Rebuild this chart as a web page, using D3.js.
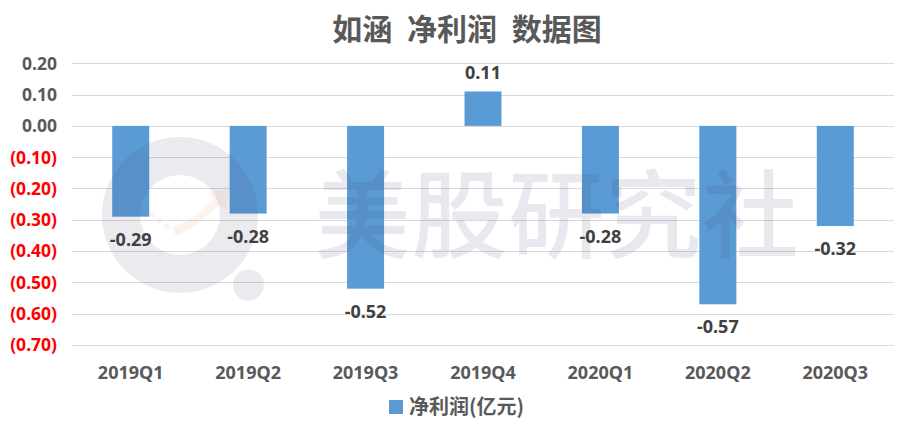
<!DOCTYPE html>
<html><head><meta charset="utf-8">
<script src="https://cdn.jsdelivr.net/npm/d3@7"></script>
<style>
body{margin:0;background:#fff;}
svg{display:block;}
text{font-family:"Noto Sans","Noto Sans CJK SC",sans-serif;}
</style></head>
<body>
<script>
const categories = ["2019Q1","2019Q2","2019Q3","2019Q4","2020Q1","2020Q2","2020Q3"];
const values = [-0.29,-0.28,-0.52,0.11,-0.28,-0.57,-0.32];
const yTicks = [0.2,0.1,0,-0.1,-0.2,-0.3,-0.4,-0.5,-0.6,-0.7];
const seriesName = "净利润(亿元)";
const title = "如涵 净利润 数据图";
const watermark = "美股研究社";

const W = 903, H = 433;
const svg = d3.select("body").append("svg").attr("width", W).attr("height", H);

const x = d3.scaleBand().domain(categories).range([72, 894]).padding(0);
const y = d3.scaleLinear().domain([-0.7, 0.2]).range([345, 63.3]);

// title
svg.append("text").attr("x", 467).attr("y", 40).attr("text-anchor", "middle")
  .attr("font-size", 30).attr("font-weight", 700).attr("fill", "#595959")
  .attr("word-spacing", 8)
  .style("font-family", '"Noto Sans CJK SC",sans-serif').text(title);

// gridlines
svg.append("g").selectAll("line").data(yTicks).join("line")
  .attr("x1", 72).attr("x2", 894)
  .attr("y1", d => Math.round(y(d)) + 0.5).attr("y2", d => Math.round(y(d)) + 0.5)
  .attr("stroke", "#d9d9d9").attr("stroke-width", 1);

// y tick labels
const fmt = d3.format(".2f");
svg.append("g").selectAll("text").data(yTicks).join("text")
  .attr("x", 57).attr("y", d => y(d)).attr("dy", "0.36em").attr("text-anchor", "end")
  .attr("font-size", 17.5).attr("font-weight", 700)
  .attr("fill", d => d < 0 ? "#ff0000" : "#595959")
  .text(d => d < 0 ? "(" + fmt(-d) + ")" : fmt(d));

// bars
const bw = x.bandwidth() * 0.315;
svg.append("g").selectAll("rect").data(values).join("rect")
  .attr("x", (d, i) => x(categories[i]) + x.bandwidth() / 2 - bw / 2)
  .attr("width", bw)
  .attr("y", d => y(Math.max(0, d)))
  .attr("height", d => Math.abs(y(d) - y(0)))
  .attr("fill", "#5b9bd5");

// value labels
svg.append("g").selectAll("text").data(values).join("text")
  .attr("x", (d, i) => x(categories[i]) + x.bandwidth() / 2)
  .attr("y", d => d < 0 ? y(d) + 29 : y(d) - 12)
  .attr("text-anchor", "middle")
  .attr("font-size", 18).attr("font-weight", 700).attr("fill", "#404040")
  .text(d => d.toFixed(2));

// category labels
svg.append("g").selectAll("text").data(categories).join("text")
  .attr("x", d => x(d) + x.bandwidth() / 2).attr("y", 379)
  .attr("text-anchor", "middle")
  .attr("font-size", 18).attr("font-weight", 700).attr("fill", "#595959")
  .text(d => d);

// watermark (semi-transparent, on top)
const wm = svg.append("g").attr("pointer-events", "none");
const cx = 180, cy = 215;
wm.append("path")
  .attr("d", d3.arc()({innerRadius: 40, outerRadius: 78, startAngle: 0, endAngle: 2 * Math.PI}))
  .attr("transform", `translate(${cx},${cy})`)
  .attr("fill", "rgb(60,60,110)").attr("opacity", 0.11);
wm.append("circle").attr("cx", 248.5).attr("cy", 285).attr("r", 15.5)
  .attr("fill", "rgb(60,60,110)").attr("opacity", 0.11);
wm.append("path")
  .attr("d", "M172,228 L192,218 L214,200 L208,193 L229,189 L226,209 L220,204 L196,226 L176,236 Z")
  .attr("fill", "#f5a06a").attr("opacity", 0.13);
wm.append("g").selectAll("rect").data([[150,212],[157,218],[164,224]]).join("rect")
  .attr("x", d => d[0]).attr("y", d => d[1]).attr("width", 5).attr("height", 5)
  .attr("fill", "#f5a06a").attr("opacity", 0.13);
wm.append("text").attr("x", 557).attr("y", 250).attr("text-anchor", "middle")
  .attr("font-size", 96).attr("font-weight", 500)
  .attr("letter-spacing", 1)
  .style("font-family", '"Noto Sans CJK SC",sans-serif')
  .attr("fill", "rgb(60,60,110)").attr("opacity", 0.11)
  .text(watermark);

// legend
const lg = svg.append("g");
lg.append("rect").attr("x", 389).attr("y", 400).attr("width", 14).attr("height", 14).attr("fill", "#5b9bd5");
lg.append("text").attr("x", 409).attr("y", 414)
  .attr("font-size", 20).attr("font-weight", 700).attr("fill", "#595959")
  .style("font-family", '"Noto Sans CJK SC",sans-serif')
  .text(seriesName);
</script>
</body></html>
